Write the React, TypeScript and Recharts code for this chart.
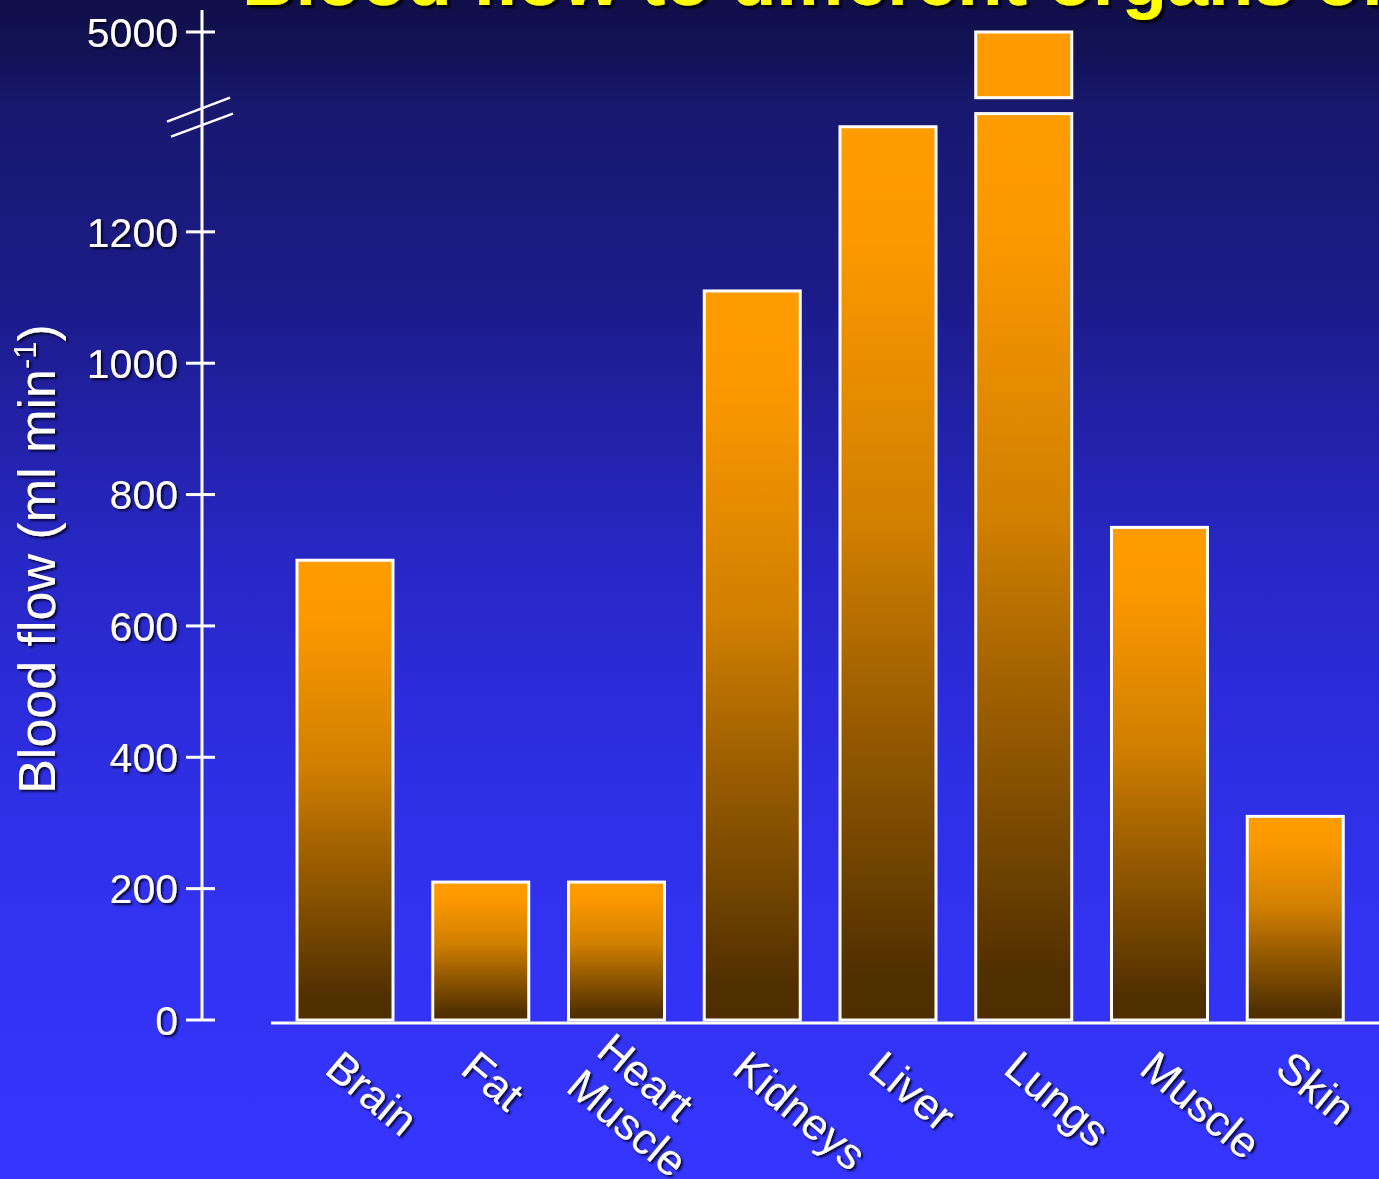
import React from 'react';
import { BarChart, Bar, XAxis, YAxis, ReferenceLine } from 'recharts';

// Resting blood flow per organ (ml/min)
const organs = ['Brain', 'Fat', 'Heart Muscle', 'Kidneys', 'Liver', 'Lungs', 'Muscle', 'Skin'];
const bloodFlow = [700, 210, 210, 1110, 1360, 5000, 750, 310];
const yTicks = [0, 200, 400, 600, 800, 1000, 1200, 5000];

const TITLE = 'Blood flow to different organs of the body';
const FONT = "'Liberation Sans', Arial, Helvetica, sans-serif";

const data = organs.map((organ, i) => ({ organ, flow: bloodFlow[i] }));

// Broken value axis: 0..1380 and 4900..5000 are shown, the span between is cut out.
const AXIS_STOPS = [0, 1380, 4900, 5000];
const AXIS_FRACS = [0, 0.9174, 0.9335, 1];

function axisFraction(v: number): number {
  const n = AXIS_STOPS.length;
  for (let i = 1; i < n; i++) {
    if (v <= AXIS_STOPS[i] || i === n - 1) {
      const t = (v - AXIS_STOPS[i - 1]) / (AXIS_STOPS[i] - AXIS_STOPS[i - 1]);
      return AXIS_FRACS[i - 1] + t * (AXIS_FRACS[i] - AXIS_FRACS[i - 1]);
    }
  }
  return 0;
}

function fractionToValue(f: number): number {
  const n = AXIS_FRACS.length;
  for (let i = 1; i < n; i++) {
    if (f <= AXIS_FRACS[i] || i === n - 1) {
      const t = (f - AXIS_FRACS[i - 1]) / (AXIS_FRACS[i] - AXIS_FRACS[i - 1]);
      return AXIS_STOPS[i - 1] + t * (AXIS_STOPS[i] - AXIS_STOPS[i - 1]);
    }
  }
  return 0;
}

// d3-style scale object with a piecewise mapping
function brokenScale(): any {
  let dom: number[] = [AXIS_STOPS[0], AXIS_STOPS[AXIS_STOPS.length - 1]];
  let rng: number[] = [0, 1];
  const s: any = (v: number) => rng[0] + axisFraction(v) * (rng[1] - rng[0]);
  s.domain = (d?: number[]) => {
    if (d === undefined) return dom.slice();
    dom = d.slice();
    return s;
  };
  s.range = (r?: number[]) => {
    if (r === undefined) return rng.slice();
    rng = r.slice();
    return s;
  };
  s.copy = () => brokenScale().domain(dom).range(rng);
  s.ticks = () => yTicks.slice();
  s.invert = (px: number) => fractionToValue((px - rng[0]) / (rng[1] - rng[0]));
  return s;
}

const yScale = brokenScale();

const BarShape = (props: any) => {
  const { x, y, width, height, payload } = props;
  const v: number = payload.flow;
  const bottom = y + height;
  if (v <= AXIS_STOPS[1]) {
    return <rect x={x} y={y} width={width} height={height} fill="url(#barFill)" stroke="#ffffff" strokeWidth={3} />;
  }
  const full = height / axisFraction(v);
  const gapLow = bottom - axisFraction(AXIS_STOPS[1]) * full;
  const gapHigh = bottom - axisFraction(AXIS_STOPS[2]) * full;
  return (
    <g>
      <rect x={x} y={gapLow} width={width} height={bottom - gapLow} fill="url(#barFill)" stroke="#ffffff" strokeWidth={3} />
      <rect x={x} y={y} width={width} height={gapHigh - y} fill="#ff9a00" stroke="#ffffff" strokeWidth={3} />
    </g>
  );
};

const YTick = (props: any) => {
  const { x, y, payload } = props;
  return (
    <g>
      <line x1={x - 16} x2={x + 13} y1={y} y2={y} stroke="#ffffff" strokeWidth={3} />
      <g filter="url(#textShadow)">
        <text x={x - 24} y={y} dy="0.36em" textAnchor="end" fill="#ffffff" fontSize={41} fontFamily={FONT}>
          {payload.value}
        </text>
      </g>
    </g>
  );
};

const LABEL_ANGLE = 40;
const LABEL_LINE = 47;

const XTick = (props: any) => {
  const { x, y, payload } = props;
  const lines = String(payload.value).split(' ');
  const shiftY = (-(lines.length - 1) * LABEL_LINE * Math.cos((LABEL_ANGLE * Math.PI) / 180)) / 2;
  return (
    <g filter="url(#textShadow)">
      <g transform={`translate(${x - 22}, ${y + 52 + shiftY}) rotate(${LABEL_ANGLE})`}>
        <text fill="#ffffff" fontSize={44} fontFamily={FONT}>
          {lines.map((line, i) => (
            <tspan key={line} x={0} y={i * LABEL_LINE}>
              {line}
            </tspan>
          ))}
        </text>
      </g>
    </g>
  );
};

const YAxisTitle = () => (
  <g filter="url(#textShadow)">
    <text transform="translate(55, 559) rotate(-90)" textAnchor="middle" fill="#ffffff" fontSize={52} fontFamily={FONT}>
      Blood flow (ml min
      <tspan dy={-19} fontSize={31}>-1</tspan>
      <tspan dy={19}>)</tspan>
    </text>
  </g>
);

// horizontal base line, starting a little left of the first category
const BaseLine = (p: any) => (
  <line x1={p.x1 + 69} y1={p.y1 + 3} x2={p.x2 + 16} y2={p.y2 + 3} stroke="#ffffff" strokeWidth={3} />
);

// double slash marking the cut in the value axis
const BreakMarks = (p: any) => (
  <g stroke="#ffffff" strokeWidth={2.5}>
    <line x1={p.x1 - 35} y1={p.y1 + 8} x2={p.x1 + 28} y2={p.y1 - 16} />
    <line x1={p.x1 - 31} y1={p.y1 + 23} x2={p.x1 + 31} y2={p.y1} />
  </g>
);

export default function App() {
  return (
    <div
      style={{
        position: 'fixed',
        left: 0,
        top: 0,
        width: 1379,
        height: 1179,
        overflow: 'hidden',
        background:
          'linear-gradient(to bottom, #100f48 0%, #131258 5%, #18186e 9%, #1a1a7c 17%, #1c1b88 25%, #2626c0 45%, #2c2cdc 60%, #3232f0 78%, #3535ff 100%)',
      }}
    >
      <BarChart width={1379} height={1179} data={data} margin={{ top: 10, right: 16, bottom: 0, left: 0 }}>
        <defs>
          <linearGradient id="barFill" x1="0" y1="0" x2="0" y2="1">
            <stop offset="0" stopColor="#ff9c00" />
            <stop offset="0.12" stopColor="#fd9900" />
            <stop offset="0.45" stopColor="#d07f00" />
            <stop offset="0.65" stopColor="#9c5e00" />
            <stop offset="0.85" stopColor="#6a4000" />
            <stop offset="0.95" stopColor="#502f00" />
            <stop offset="1" stopColor="#4e2e00" />
          </linearGradient>
          <filter id="textShadow" x="-20%" y="-20%" width="140%" height="140%">
            <feDropShadow dx="2" dy="2" stdDeviation="1.2" floodColor="#000018" floodOpacity="0.85" />
          </filter>
          <filter id="titleShadow" x="-5%" y="-20%" width="110%" height="160%">
            <feDropShadow dx="3" dy="3" stdDeviation="1" floodColor="#000000" floodOpacity="0.95" />
          </filter>
        </defs>
        <text
          x={242}
          y={5}
          fill="#ffff00"
          fontSize={74}
          fontWeight="bold"
          fontFamily={FONT}
          filter="url(#titleShadow)"
        >
          {TITLE}
        </text>
        <XAxis
          dataKey="organ"
          type="category"
          interval={0}
          height={159}
          padding={{ left: 75, right: 0 }}
          axisLine={false}
          tickLine={false}
          tickSize={0}
          tickMargin={0}
          tick={<XTick />}
        />
        <YAxis
          type="number"
          scale={yScale}
          domain={[0, 5000]}
          ticks={yTicks}
          interval={0}
          width={202}
          padding={{ top: 22, bottom: 0 }}
          axisLine={{ stroke: '#ffffff', strokeWidth: 3 }}
          tickLine={false}
          tickSize={0}
          tickMargin={0}
          tick={<YTick />}
          label={<YAxisTitle />}
        />
        <Bar dataKey="flow" barSize={96} isAnimationActive={false} shape={BarShape} />
        <ReferenceLine y={0} ifOverflow="visible" shape={BaseLine} />
        <ReferenceLine y={AXIS_STOPS[1]} ifOverflow="visible" shape={BreakMarks} />
      </BarChart>
    </div>
  );
}
